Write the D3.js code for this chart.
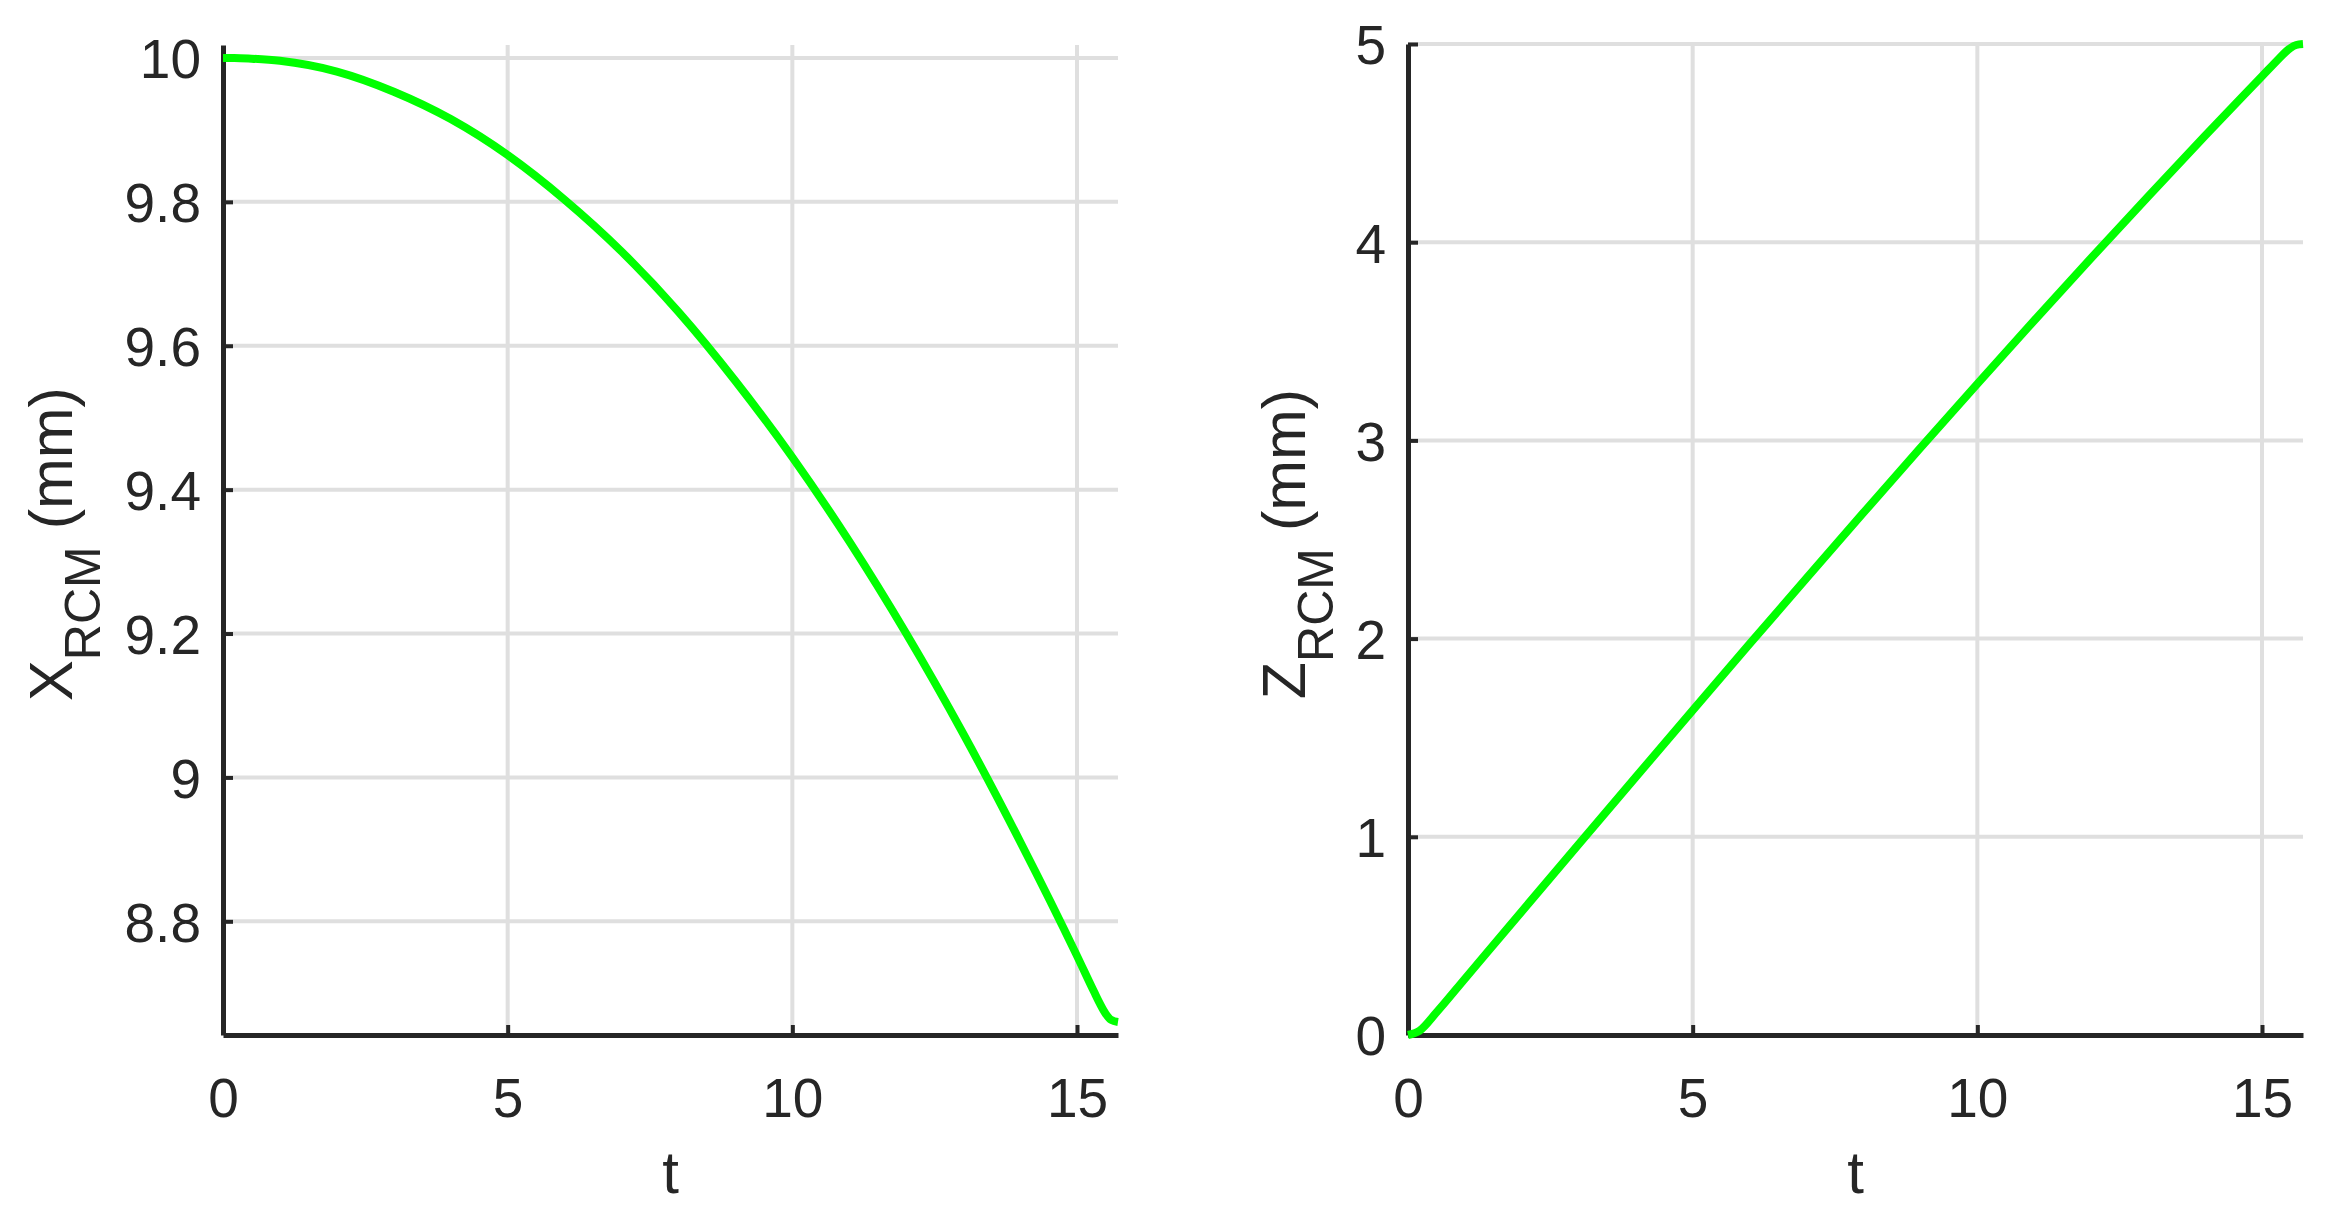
<!DOCTYPE html>
<html>
<head>
<meta charset="utf-8">
<script src="https://cdn.jsdelivr.net/npm/d3@7"></script>
<style>
  body { margin: 0; background: #fff; }
  text { font-family: "Liberation Sans", Arial, sans-serif; fill: #262626; }
</style>
</head>
<body>
<div id="chart"></div>
<script>
// values
const tValues = [0, 0.2, 0.5, 1, 2, 3, 4, 5, 6, 7, 8, 9, 10, 11, 12, 13, 14, 15, 15.3, 15.4, 15.5, 15.6, 15.72];
const xRcm = [10.000, 10.000, 9.999, 9.996, 9.981, 9.953, 9.915, 9.865, 9.803, 9.731, 9.647,
              9.551, 9.445, 9.328, 9.200, 9.061, 8.911, 8.752, 8.702, 8.686, 8.672, 8.663, 8.660];
const zRcm = [0, 0.021, 0.114, 0.284, 0.624, 0.963, 1.301, 1.638, 1.973, 2.305, 2.635,
              2.962, 3.285, 3.605, 3.920, 4.231, 4.537, 4.837, 4.927, 4.956, 4.980, 4.995, 5.000];
const tTicks = [0, 5, 10, 15];
const xRcmTicks = [8.8, 9, 9.2, 9.4, 9.6, 9.8, 10];
const zRcmTicks = [0, 1, 2, 3, 4, 5];

const W = 2332, H = 1220;
const svg = d3.select("#chart").append("svg")
    .attr("width", W)
    .attr("height", H)
    .style("background", "#fff");

function drawPanel(opt) {
    const x = d3.scaleLinear().domain([0, 15.72]).range([opt.left, opt.left + 895]);
    const y = d3.scaleLinear().domain(opt.yDomain).range([1035, opt.top]);
    const g = svg.append("g");

    // grid
    g.append("g").selectAll("line")
        .data(tTicks.filter(d => d > 0))
        .enter().append("line")
        .attr("x1", d => x(d)).attr("x2", d => x(d))
        .attr("y1", opt.top).attr("y2", 1035)
        .attr("stroke", "#dfdfdf").attr("stroke-width", 4);
    g.append("g").selectAll("line")
        .data(opt.yTicks)
        .enter().append("line")
        .attr("x1", opt.left).attr("x2", opt.left + 895)
        .attr("y1", d => y(d)).attr("y2", d => y(d))
        .attr("stroke", "#dfdfdf").attr("stroke-width", 4);

    // axes
    const xAxis = g.append("g")
        .attr("transform", "translate(0,1035)")
        .call(d3.axisBottom(x).tickValues(tTicks).tickSizeInner(-10).tickSizeOuter(0).tickPadding(43));
    const yAxis = g.append("g")
        .attr("transform", "translate(" + opt.left + ",0)")
        .call(d3.axisLeft(y).tickValues(opt.yTicks).tickSizeInner(-10).tickSizeOuter(0).tickPadding(22)
            .tickFormat(d3.format("")));
    [xAxis, yAxis].forEach(a => {
        a.select(".domain").attr("stroke", "#262626").attr("stroke-width", 5);
        a.selectAll(".tick line").attr("stroke", "#262626").attr("stroke-width", 4);
        a.selectAll(".tick text")
            .attr("fill", "#262626")
            .style("font-family", "'Liberation Sans', Arial, sans-serif")
            .style("font-size", "55px");
    });
    yAxis.selectAll(".tick text").attr("dy", "0.36em");

    // curve
    const line = d3.line()
        .x((d, i) => x(tValues[i]))
        .y(d => y(d))
        .curve(d3.curveMonotoneX);
    g.append("path")
        .datum(opt.values)
        .attr("d", line)
        .attr("fill", "none")
        .attr("stroke", "#00ff00")
        .attr("stroke-width", 8)
        .attr("stroke-linejoin", "round");

    // x label
    g.append("text")
        .attr("x", opt.left + 895 / 2)
        .attr("y", 1193)
        .attr("text-anchor", "middle")
        .style("font-size", "60px")
        .text("t");

    // y label with subscript
    const yl = g.append("text")
        .attr("transform", "translate(" + opt.labelX + ",544) rotate(-90)")
        .attr("text-anchor", "middle")
        .style("font-size", "61px");
    yl.append("tspan").text(opt.sym);
    yl.append("tspan").attr("dy", 28).style("font-size", "50px").text("RCM");
    yl.append("tspan").attr("dy", -28).text(" (mm)");
}

drawPanel({ left: 223, top: 45, yDomain: [8.642, 10.018], yTicks: xRcmTicks, values: xRcm, sym: "X", labelX: 72 });
drawPanel({ left: 1408, top: 44, yDomain: [0, 5], yTicks: zRcmTicks, values: zRcm, sym: "Z", labelX: 1305 });
</script>
</body>
</html>
